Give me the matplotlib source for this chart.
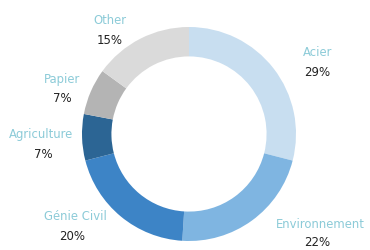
import matplotlib
matplotlib.use("Agg")
import matplotlib.pyplot as plt

categories = ["Acier", "Environnement", "Génie Civil", "Agriculture", "Papier", "Other"]
shares = [29, 22, 20, 7, 7, 15]
colors = ["#c8def0", "#7fb5e1", "#3d84c6", "#2c6594", "#b4b4b4", "#dadada"]

# label centres in pixels (name, percent below)
label_px = [(318, 53), (320, 225), (75, 217), (41, 135), (62, 80), (110, 20)]
pct_px = [(317, 73), (317, 243), (72, 237), (43, 155), (62, 99), (110, 41)]

W, H = 370, 251
fig = plt.figure(figsize=(W / 100, H / 100), dpi=100, facecolor="white")

cx, cy, r = 189, 135, 107
ax = fig.add_axes([(cx - r) / W, (H - cy - r) / H, 2 * r / W, 2 * r / H])
ax.pie(shares, colors=colors, startangle=90, counterclock=False, radius=1.0,
       wedgeprops=dict(width=0.275, edgecolor="none"))
ax.set_xlim(-1, 1)
ax.set_ylim(-1, 1)
ax.set_aspect("equal")
ax.axis("off")

for name, val, (x, y), (px, py) in zip(categories, shares, label_px, pct_px):
    fig.text(x / W, 1 - y / H, name, ha="center", va="center",
             fontsize=8.4, color="#8ccbd8")
    fig.text(px / W, 1 - py / H, f"{val}%", ha="center", va="center",
             fontsize=8.5, color="#222222")

fig.savefig("out.png", dpi=100, facecolor="white")
